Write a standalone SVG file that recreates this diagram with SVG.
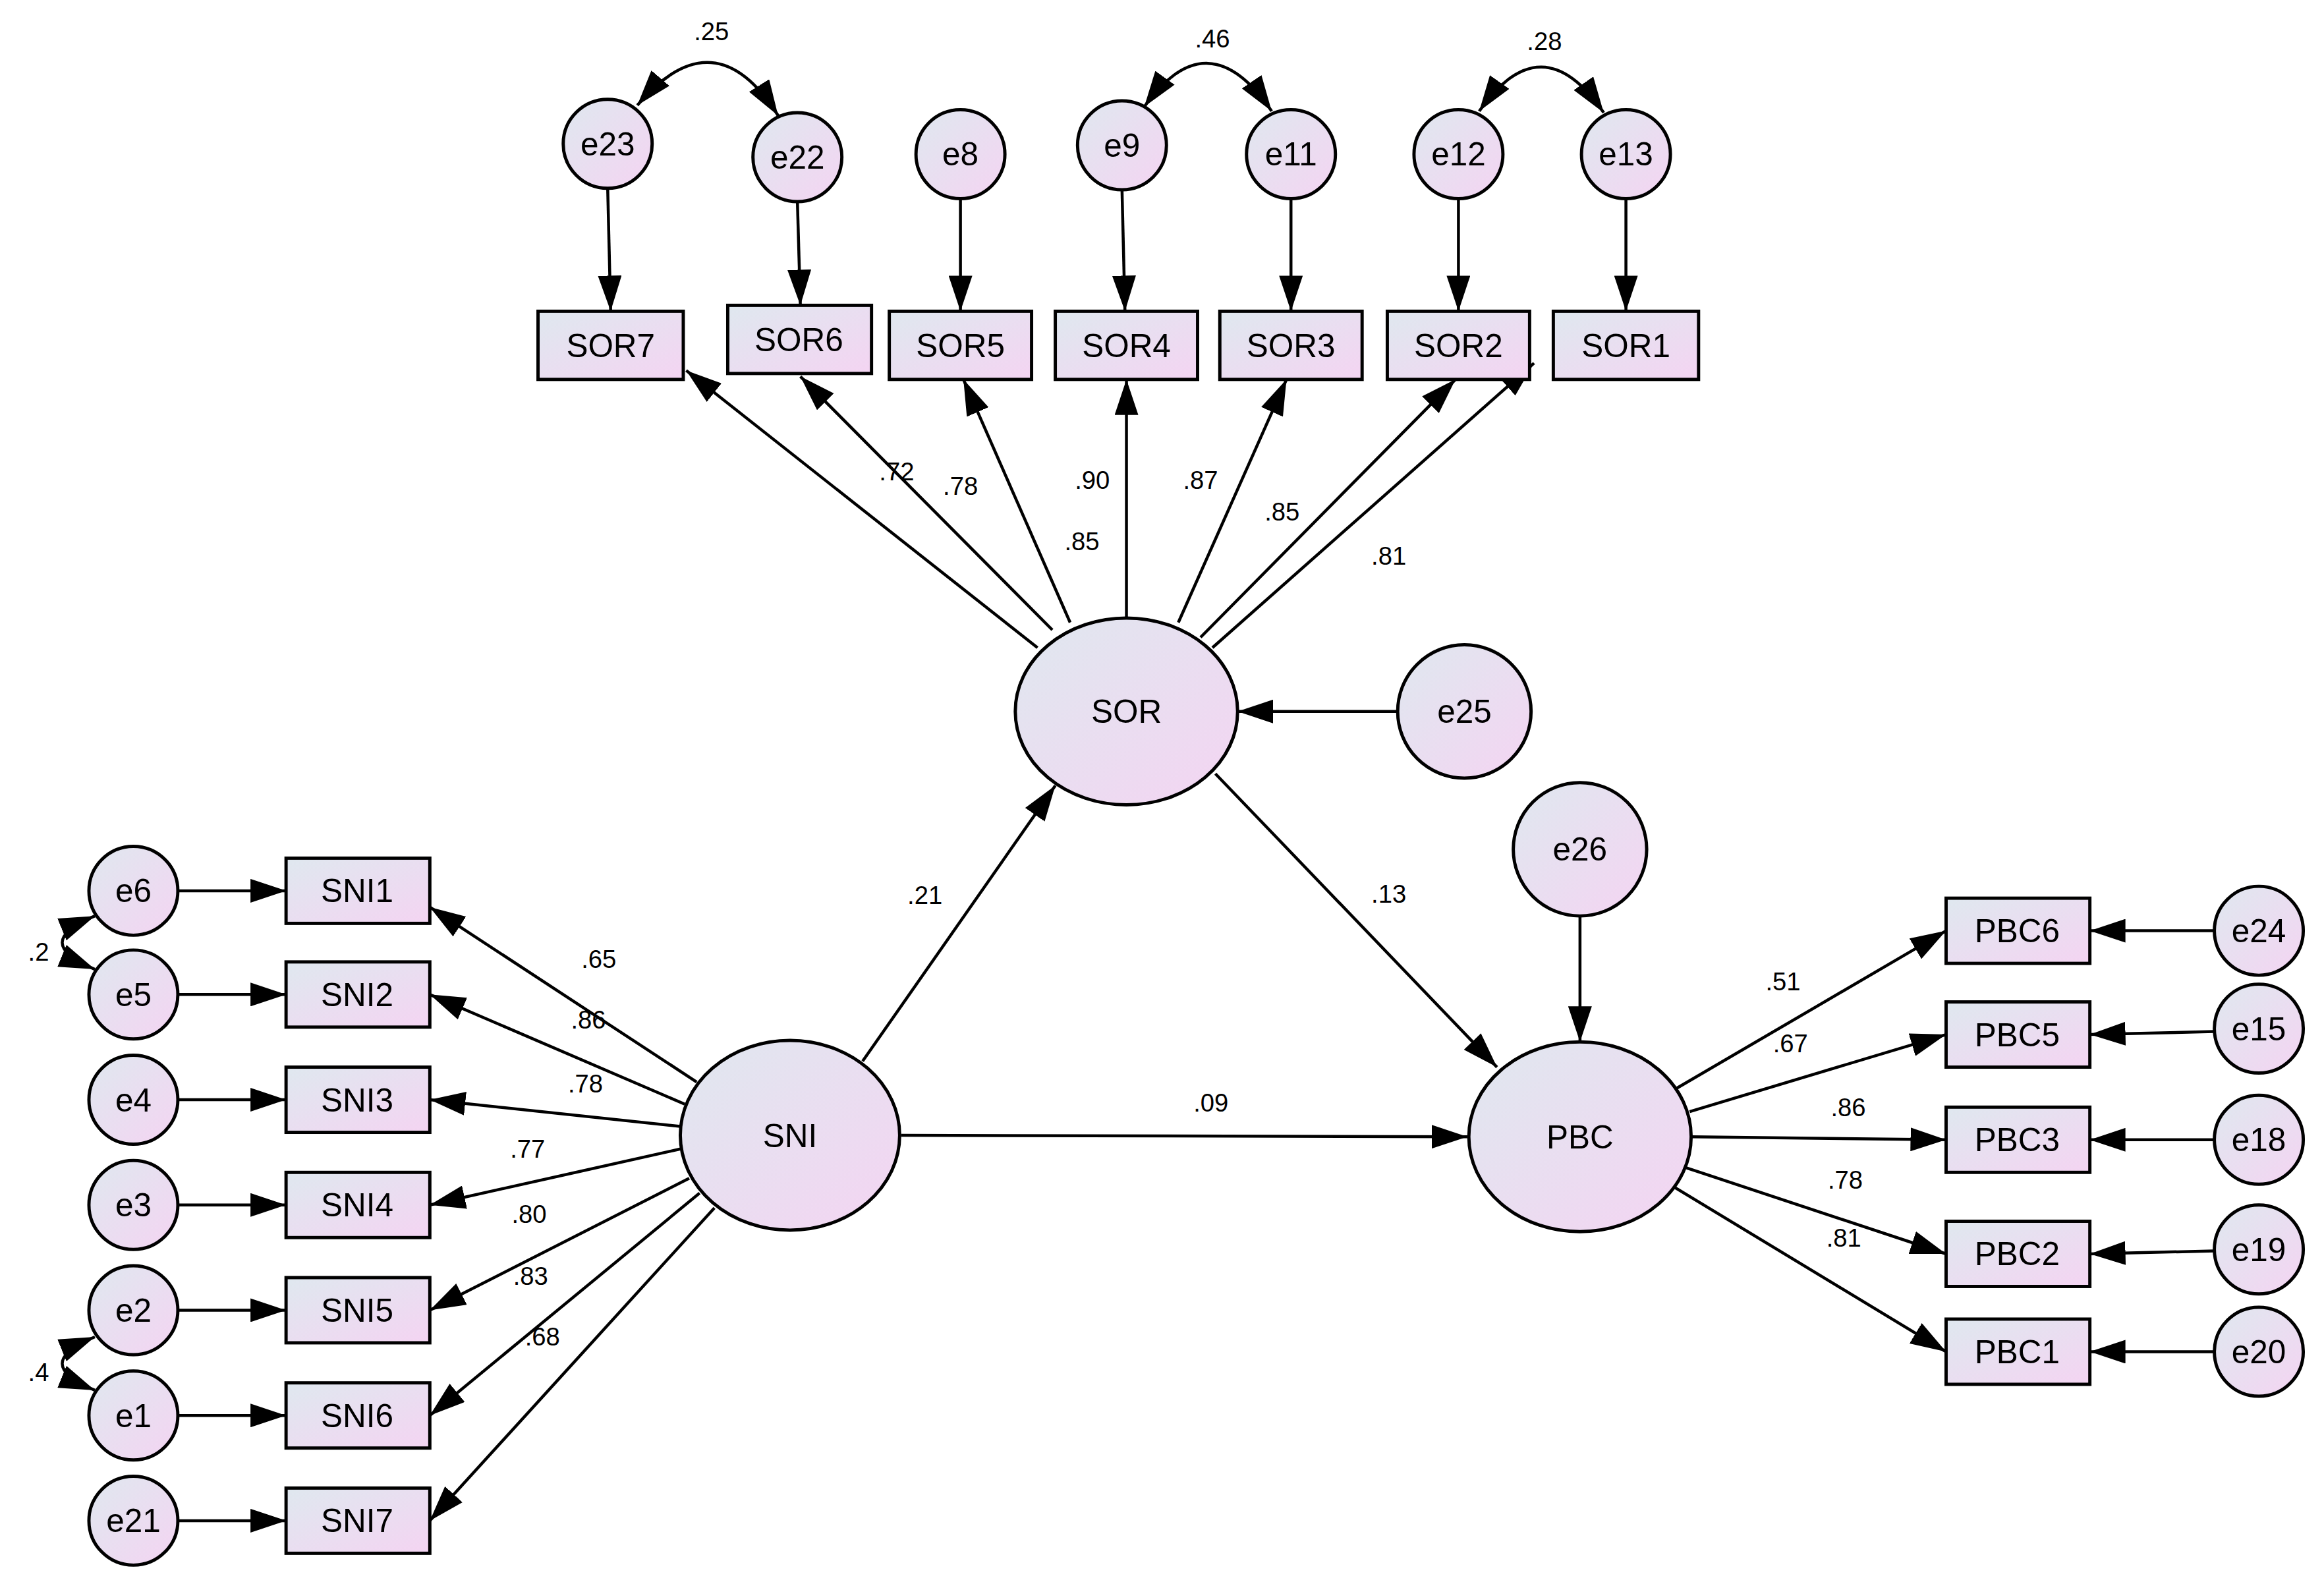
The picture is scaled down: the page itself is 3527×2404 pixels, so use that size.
<svg xmlns="http://www.w3.org/2000/svg" width="3527" height="2404" viewBox="0 0 3527 2404">
<defs>
<linearGradient id="g" x1="0" y1="0" x2="1" y2="1"><stop offset="0" stop-color="#dfe8ef"/><stop offset="1" stop-color="#f4d4f2"/></linearGradient>
<marker id="a" viewBox="0 0 24 16" refX="24" refY="8" markerWidth="24" markerHeight="16" markerUnits="userSpaceOnUse" orient="auto-start-reverse"><path d="M0,0L24,8L0,16Z" fill="#000"/></marker>
<style>
.n{fill:url(#g);stroke:#000;stroke-width:2.2}
.t{font-family:"Liberation Sans",Arial,sans-serif;font-size:22px;text-anchor:middle;dominant-baseline:central;fill:#000}
.c{font-family:"Liberation Sans",Arial,sans-serif;font-size:17px;text-anchor:middle;fill:#000}
.l{stroke:#000;stroke-width:2;fill:none;marker-end:url(#a)}
.d{stroke:#000;stroke-width:2;fill:none;marker-end:url(#a);marker-start:url(#a)}
</style>
</defs>
<rect width="3527" height="2404" fill="#fff"/>
<g transform="scale(2.2494)">
<g id="connectors">
<path class="l" d="M700,437L463,250"/><path class="l" d="M710,425L540,254"/><path class="l" d="M722,420L650,256"/><path class="l" d="M760,417L760,256"/><path class="l" d="M795,420L868,256"/><path class="l" d="M810,430L982,256"/><path class="l" d="M818,437L1035,245"/>
<path class="l" d="M470,730L290,612"/><path class="l" d="M462,745L290,671"/><path class="l" d="M459,760L290,742"/><path class="l" d="M460,775L290,813"/><path class="l" d="M465,795L290,884"/><path class="l" d="M472,805L290,955"/><path class="l" d="M482,815L290,1026"/>
<path class="l" d="M582,716L712,530"/><path class="l" d="M820,522L1010,720"/><path class="l" d="M608,766L990,767"/>
<path class="l" d="M943,480L835,480"/><path class="l" d="M1066,618L1066,703"/>
<path class="l" d="M1130,735L1313,628"/><path class="l" d="M1140,750L1313,698"/><path class="l" d="M1141,767L1313,769"/><path class="l" d="M1135,787L1313,846"/><path class="l" d="M1128,800L1313,912"/>
<path class="l" d="M1494,628L1410,628"/><path class="l" d="M1494,696L1410,698"/><path class="l" d="M1494,769L1410,769"/><path class="l" d="M1494,844L1410,846"/><path class="l" d="M1494,912L1410,912"/>
<path class="l" d="M120,601L193,601"/><path class="l" d="M120,671L193,671"/><path class="l" d="M120,742L193,742"/><path class="l" d="M120,813L193,813"/><path class="l" d="M120,884L193,884"/><path class="l" d="M120,955L193,955"/><path class="l" d="M120,1026L193,1026"/>
<path class="l" d="M410,127L412,210"/><path class="l" d="M538,136L540,206"/><path class="l" d="M648,134L648,210"/><path class="l" d="M757,128L759,210"/><path class="l" d="M871,134L871,210"/><path class="l" d="M984,134L984,210"/><path class="l" d="M1097,134L1097,210"/>
<path class="d" d="M430,71Q482,10 525,78"/><path class="d" d="M772,72Q815,12 858,75"/><path class="d" d="M998,75Q1040,15 1082,76"/>
<path class="d" d="M64,618Q20,636 64,654"/><path class="d" d="M64,902Q20,920 64,938"/>
</g>
<g id="labels">
<text class="c" x="605" y="324">.72</text><text class="c" x="648" y="334">.78</text><text class="c" x="737" y="330">.90</text><text class="c" x="730" y="371">.85</text><text class="c" x="810" y="330">.87</text><text class="c" x="865" y="351">.85</text><text class="c" x="937" y="381">.81</text>
<text class="c" x="404" y="653">.65</text><text class="c" x="397" y="694">.86</text><text class="c" x="395" y="737">.78</text><text class="c" x="356" y="781">.77</text><text class="c" x="357" y="825">.80</text><text class="c" x="358" y="867">.83</text><text class="c" x="366" y="908">.68</text>
<text class="c" x="624" y="610">.21</text><text class="c" x="937" y="609">.13</text><text class="c" x="817" y="750">.09</text>
<text class="c" x="1203" y="668">.51</text><text class="c" x="1208" y="710">.67</text><text class="c" x="1247" y="753">.86</text><text class="c" x="1245" y="802">.78</text><text class="c" x="1244" y="841">.81</text>
<text class="c" x="480" y="27">.25</text><text class="c" x="818" y="32">.46</text><text class="c" x="1042" y="34">.28</text>
<text class="c" x="26" y="648">.2</text><text class="c" x="26" y="932">.4</text>
</g>
<g id="SOR"><ellipse class="n" cx="760" cy="480" rx="75" ry="63"/><text class="t" x="760" y="480">SOR</text></g>
<g id="SNI"><ellipse class="n" cx="533" cy="766" rx="74" ry="64"/><text class="t" x="533" y="766">SNI</text></g>
<g id="PBC"><ellipse class="n" cx="1066" cy="767" rx="75" ry="64"/><text class="t" x="1066" y="767">PBC</text></g>
<g id="e25"><circle class="n" cx="988" cy="480" r="45"/><text class="t" x="988" y="480">e25</text></g>
<g id="e26"><circle class="n" cx="1066" cy="573" r="45"/><text class="t" x="1066" y="573">e26</text></g>
<g id="SNI1"><rect class="n" x="193" y="579" width="97" height="44"/><text class="t" x="241" y="601">SNI1</text></g>
<g id="SNI2"><rect class="n" x="193" y="649" width="97" height="44"/><text class="t" x="241" y="671">SNI2</text></g>
<g id="SNI3"><rect class="n" x="193" y="720" width="97" height="44"/><text class="t" x="241" y="742">SNI3</text></g>
<g id="SNI4"><rect class="n" x="193" y="791" width="97" height="44"/><text class="t" x="241" y="813">SNI4</text></g>
<g id="SNI5"><rect class="n" x="193" y="862" width="97" height="44"/><text class="t" x="241" y="884">SNI5</text></g>
<g id="SNI6"><rect class="n" x="193" y="933" width="97" height="44"/><text class="t" x="241" y="955">SNI6</text></g>
<g id="SNI7"><rect class="n" x="193" y="1004" width="97" height="44"/><text class="t" x="241" y="1026">SNI7</text></g>
<g id="e6"><circle class="n" cx="90" cy="601" r="30"/><text class="t" x="90" y="601">e6</text></g>
<g id="e5"><circle class="n" cx="90" cy="671" r="30"/><text class="t" x="90" y="671">e5</text></g>
<g id="e4"><circle class="n" cx="90" cy="742" r="30"/><text class="t" x="90" y="742">e4</text></g>
<g id="e3"><circle class="n" cx="90" cy="813" r="30"/><text class="t" x="90" y="813">e3</text></g>
<g id="e2"><circle class="n" cx="90" cy="884" r="30"/><text class="t" x="90" y="884">e2</text></g>
<g id="e1"><circle class="n" cx="90" cy="955" r="30"/><text class="t" x="90" y="955">e1</text></g>
<g id="e21"><circle class="n" cx="90" cy="1026" r="30"/><text class="t" x="90" y="1026">e21</text></g>
<g id="SOR7"><rect class="n" x="363" y="210" width="98" height="46"/><text class="t" x="412" y="233">SOR7</text></g>
<g id="SOR6"><rect class="n" x="491" y="206" width="97" height="46"/><text class="t" x="539" y="229">SOR6</text></g>
<g id="SOR5"><rect class="n" x="600" y="210" width="96" height="46"/><text class="t" x="648" y="233">SOR5</text></g>
<g id="SOR4"><rect class="n" x="712" y="210" width="96" height="46"/><text class="t" x="760" y="233">SOR4</text></g>
<g id="SOR3"><rect class="n" x="823" y="210" width="96" height="46"/><text class="t" x="871" y="233">SOR3</text></g>
<g id="SOR2"><rect class="n" x="936" y="210" width="96" height="46"/><text class="t" x="984" y="233">SOR2</text></g>
<g id="SOR1"><rect class="n" x="1048" y="210" width="98" height="46"/><text class="t" x="1097" y="233">SOR1</text></g>
<g id="e23"><circle class="n" cx="410" cy="97" r="30"/><text class="t" x="410" y="97">e23</text></g>
<g id="e22"><circle class="n" cx="538" cy="106" r="30"/><text class="t" x="538" y="106">e22</text></g>
<g id="e8"><circle class="n" cx="648" cy="104" r="30"/><text class="t" x="648" y="104">e8</text></g>
<g id="e9"><circle class="n" cx="757" cy="98" r="30"/><text class="t" x="757" y="98">e9</text></g>
<g id="e11"><circle class="n" cx="871" cy="104" r="30"/><text class="t" x="871" y="104">e11</text></g>
<g id="e12"><circle class="n" cx="984" cy="104" r="30"/><text class="t" x="984" y="104">e12</text></g>
<g id="e13"><circle class="n" cx="1097" cy="104" r="30"/><text class="t" x="1097" y="104">e13</text></g>
<g id="PBC6"><rect class="n" x="1313" y="606" width="97" height="44"/><text class="t" x="1361" y="628">PBC6</text></g>
<g id="PBC5"><rect class="n" x="1313" y="676" width="97" height="44"/><text class="t" x="1361" y="698">PBC5</text></g>
<g id="PBC3"><rect class="n" x="1313" y="747" width="97" height="44"/><text class="t" x="1361" y="769">PBC3</text></g>
<g id="PBC2"><rect class="n" x="1313" y="824" width="97" height="44"/><text class="t" x="1361" y="846">PBC2</text></g>
<g id="PBC1"><rect class="n" x="1313" y="890" width="97" height="44"/><text class="t" x="1361" y="912">PBC1</text></g>
<g id="e24"><circle class="n" cx="1524" cy="628" r="30"/><text class="t" x="1524" y="628">e24</text></g>
<g id="e15"><circle class="n" cx="1524" cy="694" r="30"/><text class="t" x="1524" y="694">e15</text></g>
<g id="e18"><circle class="n" cx="1524" cy="769" r="30"/><text class="t" x="1524" y="769">e18</text></g>
<g id="e19"><circle class="n" cx="1524" cy="843" r="30"/><text class="t" x="1524" y="843">e19</text></g>
<g id="e20"><circle class="n" cx="1524" cy="912" r="30"/><text class="t" x="1524" y="912">e20</text></g>
</g>
</svg>
